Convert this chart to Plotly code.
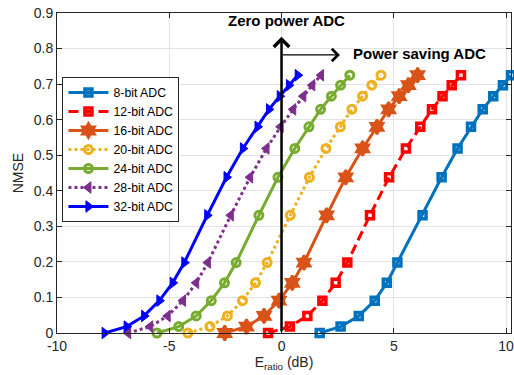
import plotly.graph_objects as go

# NMSE values (shared sampling along each curve)
nmse = [0, 0.018, 0.048, 0.091, 0.141, 0.198, 0.331, 0.438, 0.519, 0.580, 0.629, 0.666, 0.697, 0.725]

# E_ratio (dB) for each ADC resolution
e_8bit = [1.70, 2.63, 3.44, 4.15, 4.69, 5.16, 6.28, 7.13, 7.84, 8.44, 8.96, 9.43, 9.86, 10.22]
e_12bit = [-0.60, 0.37, 1.15, 1.82, 2.41, 2.93, 3.94, 4.79, 5.54, 6.18, 6.70, 7.17, 7.58, 7.99]
e_16bit = [-2.53, -1.56, -0.78, -0.11, 0.48, 1.00, 2.01, 2.86, 3.61, 4.25, 4.77, 5.24, 5.65, 6.06]
e_20bit = [-4.17, -3.19, -2.41, -1.74, -1.16, -0.64, 0.39, 1.24, 1.98, 2.62, 3.13, 3.61, 4.02, 4.43]
e_24bit = [-5.55, -4.58, -3.80, -3.13, -2.54, -2.02, -1.01, -0.16, 0.59, 1.22, 1.74, 2.22, 2.63, 3.04]
e_28bit = [-6.83, -5.85, -5.07, -4.39, -3.80, -3.28, -2.26, -1.40, -0.67, -0.04, 0.52, 0.97, 1.37, 1.76]
e_32bit = [-7.88, -6.90, -6.12, -5.44, -4.85, -4.33, -3.31, -2.45, -1.72, -1.07, -0.56, -0.08, 0.33, 0.72]

series_names = ["8-bit ADC", "12-bit ADC", "16-bit ADC", "20-bit ADC", "24-bit ADC", "28-bit ADC", "32-bit ADC"]
series_x = [e_8bit, e_12bit, e_16bit, e_20bit, e_24bit, e_28bit, e_32bit]

x_ticks = [-10, -5, 0, 5, 10]
y_ticks = [0, 0.1, 0.2, 0.3, 0.4, 0.5, 0.6, 0.7, 0.8, 0.9]

# annotation geometry (data coords)
zero_line_top = 0.833
saving_arrow_y = 0.782
saving_arrow_end = 2.6

styles = [
    dict(color="#0072BD", dash="solid", symbol="square-open", size=7, mlw=3.5),
    dict(color="#FF0000", dash="10px,5px", symbol="square-open", size=7, mlw=3.5),
    dict(color="#D95319", dash="solid", symbol="hexagram", size=11, mlw=2.5),
    dict(color="#EDB120", dash="dot", symbol="circle-open", size=8, mlw=3),
    dict(color="#77AC30", dash="solid", symbol="circle-open", size=8, mlw=3),
    dict(color="#7E2F8E", dash="dot", symbol="triangle-left", size=10, mlw=1),
    dict(color="#0000FF", dash="solid", symbol="triangle-right", size=10, mlw=1),
]

FONT = "Liberation Sans, Arial, Helvetica, sans-serif"
fig = go.Figure()
for name, xs, st in zip(series_names, series_x, styles):
    fig.add_trace(go.Scatter(
        x=xs, y=nmse, name=name, mode="lines+markers",
        line=dict(color=st["color"], width=3, dash=st["dash"]),
        marker=dict(symbol=st["symbol"], size=st["size"], color=st["color"],
                    line=dict(color=st["color"], width=st["mlw"])),
        cliponaxis=False,
    ))

axis_common = dict(
    showline=True, linecolor="#262626", linewidth=1, mirror="allticks",
    ticks="inside", ticklen=5, tickcolor="#262626",
    showgrid=True, gridcolor="#e3e3e3", gridwidth=1,
    zeroline=False, tickfont=dict(family=FONT, size=14, color="#262626"),
    automargin=False, ticklabeloverflow="allow",
)

x_max = max(max(s) for s in series_x)

fig.update_layout(
    width=514, height=375,
    margin=dict(l=57, r=3, t=13, b=42),
    paper_bgcolor="white", plot_bgcolor="white",
    font=dict(family=FONT, color="#262626"),
    xaxis=dict(range=[-10, x_max], tickvals=x_ticks, ticktext=[str(v) for v in x_ticks],
               title=dict(text="E<sub>ratio</sub> (dB)", font=dict(size=14, color="#262626"), standoff=2),
               **axis_common),
    yaxis=dict(range=[0, 0.9], tickvals=y_ticks, ticktext=["0" if v == 0 else f"{v:.1f}" for v in y_ticks],
               title=dict(text="NMSE", font=dict(size=14, color="#262626"), standoff=6),
               **axis_common),
    legend=dict(x=0.012, y=0.80, xanchor="left", yanchor="top",
                bgcolor="white", bordercolor="#262626", borderwidth=1,
                font=dict(family=FONT, size=12.3, color="#000000"),
                tracegroupgap=0, itemwidth=40),
    showlegend=True,
)

# vertical "zero power" arrow
fig.add_annotation(x=0, y=zero_line_top, ax=0, ay=0, xref="x", yref="y", axref="x", ayref="y",
                   text="", showarrow=True, arrowhead=4, arrowsize=1.2, arrowwidth=2.5, arrowcolor="#000000")
# horizontal "power saving" arrow
fig.add_annotation(x=saving_arrow_end, y=saving_arrow_y, ax=0, ay=saving_arrow_y, xref="x", yref="y",
                   axref="x", ayref="y", text="", showarrow=True, arrowhead=4, arrowsize=2,
                   arrowwidth=1.2, arrowcolor="#000000")
fig.add_annotation(x=0.2, y=0.88, xref="x", yref="y", text="<b>Zero power ADC</b>", showarrow=False,
                   font=dict(family=FONT, size=15, color="#000000"), xanchor="center", yanchor="middle")
fig.add_annotation(x=3.1, y=0.786, xref="x", yref="y", text="<b>Power saving ADC</b>", showarrow=False,
                   font=dict(family=FONT, size=15, color="#000000"), xanchor="left", yanchor="middle")

# remove the browser's default 8px body margin so the figure fills the window exactly
fig.write_html("out.html", config={"displayModeBar": False},
               post_script="document.body.style.margin='0px';document.body.style.overflow='hidden';")
